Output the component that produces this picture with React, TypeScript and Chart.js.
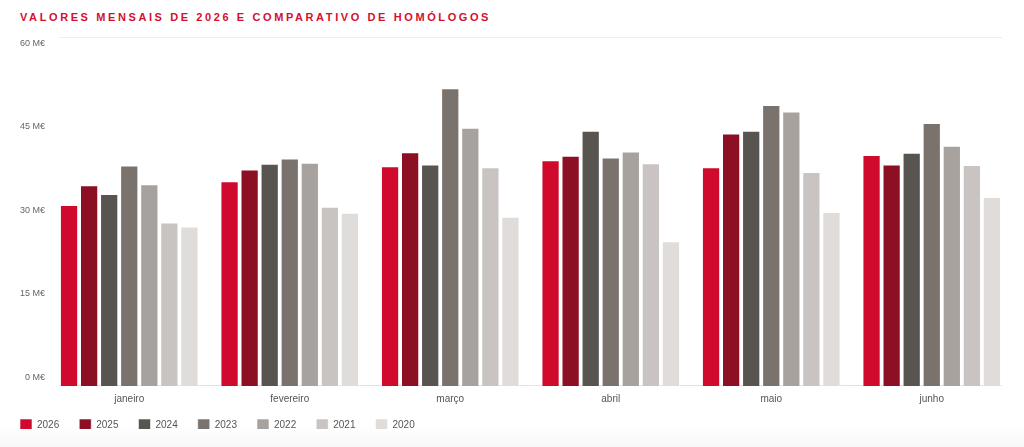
import React, { useEffect, useRef } from "react";
import { Chart, registerables } from "chart.js";

Chart.register(...registerables);

const categories = ["janeiro", "fevereiro", "março", "abril", "maio", "junho"];
const seriesNames = ["2026", "2025", "2024", "2023", "2022", "2021", "2020"];
const v2026 = [31.1, 35.2, 37.8, 38.8, 37.6, 39.7];
const v2025 = [34.5, 37.2, 40.2, 39.6, 43.4, 38.1];
const v2024 = [33.0, 38.2, 38.1, 43.9, 43.9, 40.1];
const v2023 = [37.9, 39.1, 51.2, 39.3, 48.3, 45.2];
const v2022 = [34.7, 38.4, 44.4, 40.3, 47.2, 41.3];
const v2021 = [28.1, 30.8, 37.6, 38.3, 36.8, 38.0];
const v2020 = [27.4, 29.8, 29.1, 24.9, 29.9, 32.5];
const seriesValues = [v2026, v2025, v2024, v2023, v2022, v2021, v2020];
const seriesColors = ["#cf0a2c", "#8c0f24", "#58544f", "#7a726d", "#a7a29e", "#c9c4c1", "#e0dcd9"];
const tickValues = [0, 15, 30, 45, 60];
const yMax = 60;

const CAT_PCT = 0.875;
const LEGEND_GAP = 13;

const framePlugin = {
  id: "frameLines",
  afterLayout(chart: any) {
    const lg = chart.legend;
    if (lg) {
      const h = lg.bottom - lg.top;
      lg.top = chart.chartArea.bottom + LEGEND_GAP;
      lg.bottom = lg.top + h;
    }
  },
  beforeDatasetsDraw(chart: any) {
    const x = chart.scales.x;
    const y = chart.scales.y;
    const n = chart.data.labels.length;
    const inset = (x.width / n) * (1 - CAT_PCT) / 2;
    const left = x.left + inset;
    const right = x.right - inset;
    const ctx = chart.ctx;
    ctx.save();
    ctx.lineWidth = 1;
    ctx.strokeStyle = "#eeeeee";
    const yt = Math.round(y.getPixelForValue(yMax)) + 0.5;
    ctx.beginPath();
    ctx.moveTo(left, yt);
    ctx.lineTo(right, yt);
    ctx.stroke();
    ctx.strokeStyle = "#e2e2e2";
    const yb = Math.round(y.getPixelForValue(0)) - 0.5;
    ctx.beginPath();
    ctx.moveTo(left, yb);
    ctx.lineTo(right, yb);
    ctx.stroke();
    ctx.restore();
  },
};

export default function App() {
  const ref = useRef<HTMLCanvasElement | null>(null);
  useEffect(() => {
    if (!ref.current) return;
    Chart.defaults.font.family = "'Liberation Sans', Arial, sans-serif";
    const chart = new Chart(ref.current, {
      type: "bar",
      data: {
        labels: categories,
        datasets: seriesNames.map((name, i) => ({
          label: name,
          data: seriesValues[i],
          backgroundColor: seriesColors[i],
          borderColor: "rgba(255,255,255,0.55)",
          borderWidth: 1,
          categoryPercentage: CAT_PCT,
          barPercentage: 0.91,
          yAxisID: "y",
        })),
      },
      plugins: [framePlugin],
      options: {
        animation: false,
        responsive: false,
        maintainAspectRatio: false,
        layout: { padding: { top: 37, right: 12, left: 0, bottom: 5 } },
        scales: {
          x: {
            grid: { display: false, drawTicks: false },
            border: { display: false },
            ticks: { color: "#555", font: { size: 10 }, padding: 7, maxRotation: 0, autoSkip: false },
          },
          y: {
            display: false,
            min: 0,
            max: yMax,
          },
          yl: {
            position: "left",
            min: -1.53,
            max: 61.17,
            grid: { display: false, drawTicks: false },
            border: { display: false },
            afterBuildTicks(scale: any) {
              scale.ticks = tickValues.map((v) => ({ value: v }));
            },
            ticks: {
              color: "#666",
              font: { size: 9 },
              padding: 4,
              callback: (v: any) => `${v} M€`,
            },
            afterFit(scale: any) {
              scale.width = 49;
            },
          },
        },
        plugins: {
          legend: {
            position: "bottom",
            align: "start",
            maxHeight: 30,
            labels: {
              boxWidth: 12,
              boxHeight: 12,
              padding: 20,
              color: "#555",
              font: { size: 10 },
            },
          },
          tooltip: { enabled: false },
        },
      },
    });
    return () => chart.destroy();
  }, []);

  return (
    <div
      style={{
        position: "absolute",
        left: 0,
        top: 0,
        width: 1024,
        height: 447,
        background: "linear-gradient(to bottom, #ffffff 0px, #ffffff 425px, #f8f8f8 447px)",
      }}
    >
      <div
        style={{
          position: "absolute",
          left: 20,
          top: 10,
          fontFamily: "'Liberation Sans', Arial, sans-serif",
          fontWeight: "bold",
          fontSize: 11,
          letterSpacing: 2.6,
          color: "#d40f30",
          lineHeight: "14px",
          whiteSpace: "nowrap",
        }}
      >
        VALORES MENSAIS DE 2026 E COMPARATIVO DE HOMÓLOGOS
      </div>
      <canvas ref={ref} width={1024} height={447} style={{ position: "absolute", left: 0, top: 0 }} />
    </div>
  );
}
